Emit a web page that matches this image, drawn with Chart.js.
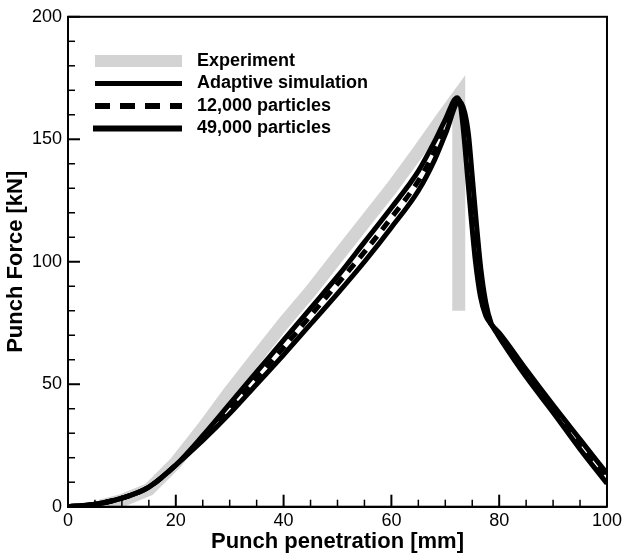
<!DOCTYPE html>
<html>
<head>
<meta charset="utf-8">
<script src="https://cdn.jsdelivr.net/npm/chart.js@4.4.1/dist/chart.umd.min.js"></script>
<style>
  html, body { margin: 0; padding: 0; background: #fff; }
  #wrap { width: 626px; height: 557px; }
</style>
</head>
<body>
<div id="wrap"><canvas id="punchChart" width="626" height="557"></canvas></div>
<script>
// series names (legend order)
const seriesLabels = ['Experiment', 'Adaptive simulation', '12,000 particles', '49,000 particles'];

// experiment (grey band), drops straight down at failure
const expX = [6, 10, 15, 20, 25, 30, 35, 40, 45, 50, 55, 60, 65, 70, 72.5, 72.5];
const expY = [0.3, 2.5, 7, 18, 32, 47, 61, 75, 88, 102, 116, 130, 145, 160.5, 168, 80];

// adaptive simulation
const adaX = [0, 5, 10, 15, 20, 25, 30, 35, 40, 45, 50, 55, 60, 65, 68, 70, 72.2,
              72.8, 73.3, 74, 74.8, 75.6, 76.5, 77.5, 78.5, 80, 85, 90, 95, 100];
const adaY = [0, 1, 3.5, 8, 17, 29, 42, 55, 68, 81, 94, 108, 122, 137, 149, 158, 167,
              164, 155, 138, 118, 100, 86, 78, 74.5, 71, 56, 41.5, 27.5, 13.5];

// 12,000 particles
const p12X = [0, 5, 10, 15, 20, 25, 30, 35, 40, 45, 50, 55, 60, 65, 68, 70, 72.4,
              73.2, 73.8, 74.5, 75.3, 76.1, 77, 78, 79, 80, 85, 90, 95, 100];
const p12Y = [0, 1, 3.5, 8, 17, 28, 40, 52.5, 65, 78, 91, 104, 118, 133, 145, 155, 166,
              162.5, 153, 136, 116, 98, 84.5, 76.5, 73, 69.5, 54.5, 40, 25.5, 11.5];

// 49,000 particles
const p49X = [0, 5, 10, 15, 20, 25, 30, 35, 40, 45, 50, 55, 60, 65, 68, 70, 72.6,
              73.6, 74.3, 75, 75.8, 76.6, 77.5, 78.5, 79.5, 80.5, 85, 90, 95, 100];
const p49Y = [0, 1, 3.5, 8, 17, 27, 38, 50, 62, 74.5, 87, 100, 114, 129, 141.5, 152, 165.5,
              161, 152, 135, 115, 97, 83.5, 75, 71, 67.5, 53, 38.5, 23.5, 9.5];

// axis ticks
const xTicks = [0, 20, 40, 60, 80, 100];
const yTicks = [0, 50, 100, 150, 200];

const pts = (xs, ys) => xs.map((v, i) => ({ x: v, y: ys[i] }));
const FONT = "'Liberation Sans', Arial, Helvetica, sans-serif";

// inward ticks, frame and the in-plot legend
const framePlugin = {
  id: 'frame',
  afterDraw(chart) {
    const { ctx, chartArea: a, scales: { x, y } } = chart;
    ctx.save();
    ctx.strokeStyle = '#000';
    ctx.lineCap = 'butt';
    for (let v = x.min; v <= x.max; v += 5) {
      const px = x.getPixelForValue(v);
      const major = xTicks.includes(v);
      ctx.lineWidth = major ? 2 : 1.5;
      ctx.beginPath();
      ctx.moveTo(px, a.bottom);
      ctx.lineTo(px, a.bottom - (major ? 12 : 7));
      ctx.stroke();
    }
    for (let v = y.min; v <= y.max; v += 10) {
      const py = y.getPixelForValue(v);
      const major = yTicks.includes(v);
      ctx.lineWidth = major ? 2 : 1.5;
      ctx.beginPath();
      ctx.moveTo(a.left, py);
      ctx.lineTo(a.left + (major ? 12 : 7), py);
      ctx.stroke();
    }
    ctx.lineWidth = 2;
    ctx.strokeRect(a.left, a.top, a.right - a.left, a.bottom - a.top);

    // legend
    const legendStyle = [
      { w: 12, dash: [] },
      { w: 5, dash: [] },
      { w: 6, dash: [15, 10] },
      { w: 6, dash: [] }
    ];
    ctx.font = 'bold 18px ' + FONT;
    ctx.textBaseline = 'middle';
    ctx.fillStyle = '#000';
    chart.data.datasets.forEach((ds, i) => {
      const ly = 61 + i * 22.5;
      ctx.strokeStyle = ds.borderColor;
      ctx.lineWidth = legendStyle[i].w;
      ctx.setLineDash(legendStyle[i].dash);
      ctx.beginPath();
      ctx.moveTo(i === 3 ? 93 : 95, ly);
      ctx.lineTo(182, ly);
      ctx.stroke();
      ctx.setLineDash([]);
      ctx.fillText(ds.label, 197, ly);
    });
    ctx.restore();
  }
};

new Chart(document.getElementById('punchChart'), {
  type: 'line',
  data: {
    datasets: [
      { label: seriesLabels[0], data: pts(expX, expY), borderColor: '#d3d3d3', borderWidth: 13,
        borderCapStyle: 'butt', borderJoinStyle: 'miter', tension: 0, order: 4 },
      { label: seriesLabels[1], data: pts(adaX, adaY), borderColor: '#000', borderWidth: 5,
        cubicInterpolationMode: 'monotone', order: 3 },
      { label: seriesLabels[2], data: pts(p12X, p12Y), borderColor: '#000', borderWidth: 5,
        borderDash: [10, 8], cubicInterpolationMode: 'monotone', order: 1 },
      { label: seriesLabels[3], data: pts(p49X, p49Y), borderColor: '#000', borderWidth: 5,
        cubicInterpolationMode: 'monotone', order: 2 }
    ]
  },
  options: {
    responsive: false,
    animation: false,
    devicePixelRatio: 1,
    elements: { point: { radius: 0 } },
    layout: { padding: { top: 13, right: 15, bottom: 0, left: 0 } },
    plugins: { legend: { display: false }, tooltip: { enabled: false } },
    scales: {
      x: {
        type: 'linear', min: 0, max: 100,
        afterBuildTicks: s => { s.ticks = xTicks.map(v => ({ value: v })); },
        afterFit: s => { s.height = 50.3; },
        grid: { display: false, drawTicks: false, tickLength: 0 },
        border: { display: true, color: '#000', width: 2 },
        ticks: { color: '#000', padding: 4, font: { family: FONT, size: 18 }, maxRotation: 0 },
        title: { display: true, text: 'Punch penetration [mm]', color: '#000',
                 font: { family: FONT, size: 22, weight: 'bold' }, padding: { top: 0, bottom: 2 } }
      },
      y: {
        type: 'linear', min: 0, max: 200,
        afterBuildTicks: s => { s.ticks = yTicks.map(v => ({ value: v })); },
        afterFit: s => { s.width = 68; },
        grid: { display: false, drawTicks: false, tickLength: 0 },
        border: { display: true, color: '#000', width: 2 },
        ticks: { color: '#000', padding: 6, font: { family: FONT, size: 18 } },
        title: { display: true, text: 'Punch Force [kN]', color: '#000',
                 font: { family: FONT, size: 22, weight: 'bold' }, padding: { top: 3, bottom: 0 } }
      }
    }
  },
  plugins: [framePlugin]
});
</script>
</body>
</html>
